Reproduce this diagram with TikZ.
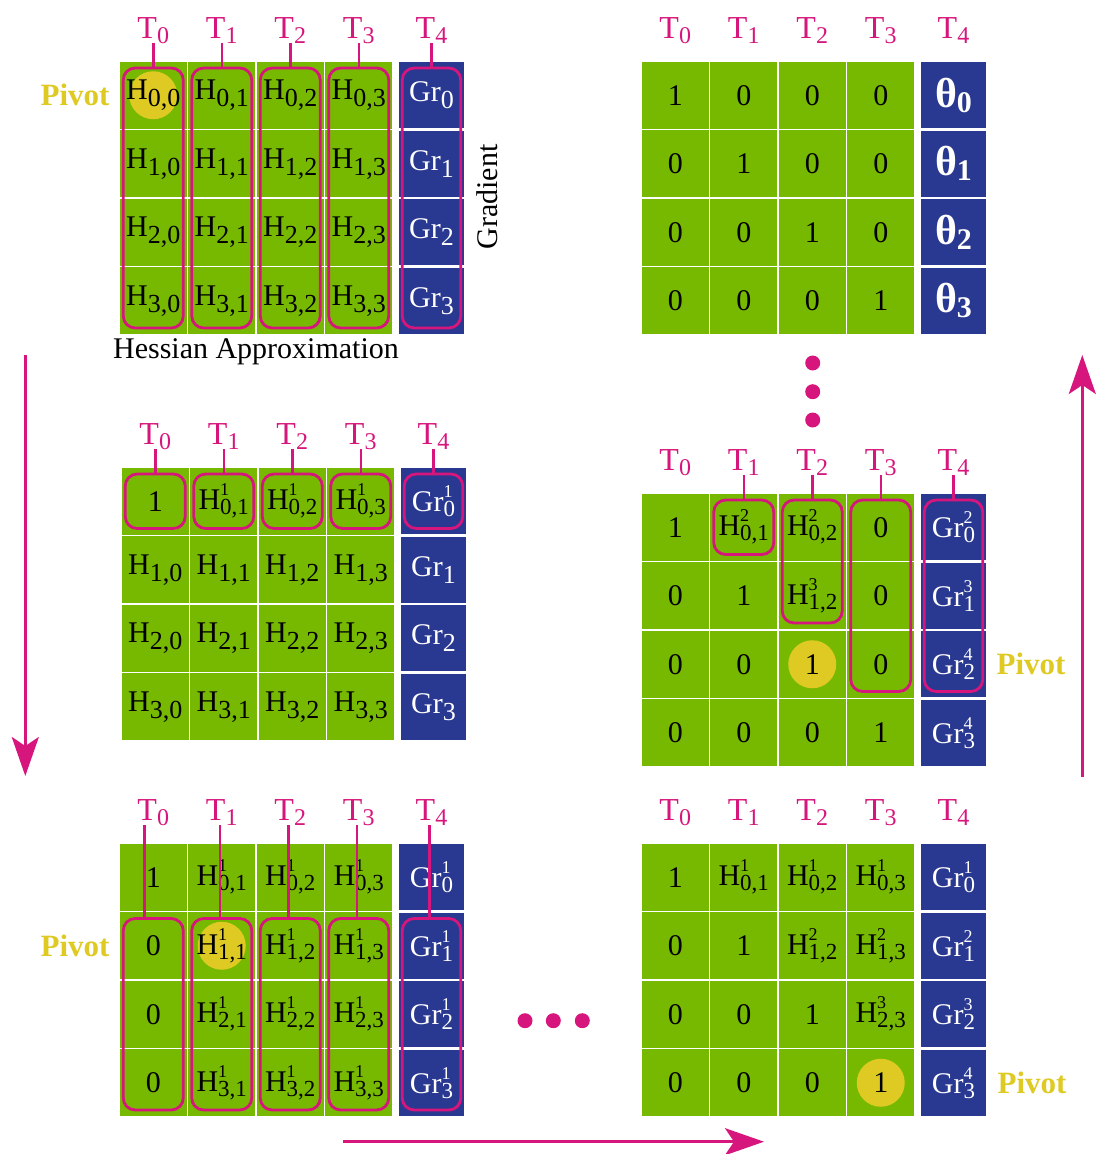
\documentclass[tikz,border=0pt]{standalone}
\usepackage{fontspec}
\setmainfont{Liberation Serif}
\usetikzlibrary{arrows.meta,fit}
\definecolor{hgreen}{RGB}{118,185,0}
\definecolor{gblue}{RGB}{41,56,144}
\definecolor{mag}{RGB}{214,22,124}
\definecolor{piv}{RGB}{222,202,34}

\newcommand\mysub[1]{\raisebox{-7pt}{\fontsize{26}{26}\selectfont #1}}
\newcommand\mysup[2]{\makebox[0pt][l]{\raisebox{14pt}{\fontsize{18}{18}\selectfont #2}}\raisebox{-5pt}{\fontsize{23}{23}\selectfont #1}}
\newcommand\cH[1]{H\mysub{#1}}
\newcommand\cHu[2]{H\mysup{#1}{#2}}
\newcommand\cG[1]{Gr\mysub{#1}}
\newcommand\cGu[2]{Gr\mysup{#1}{#2}}
\newcommand\cT[1]{T\raisebox{-5pt}{\fontsize{24}{24}\selectfont #1}}
\newcommand\cTh[1]{{\bfseries\fontsize{42}{42}\selectfont θ\raisebox{-5pt}{\fontsize{30}{30}\selectfont #1}}}

% one matrix row: name, row, pivot column, four green entries, blue entry
\newcommand\mrow[8]{%
  \tikzset{pv0/.style={},pv1/.style={},pv2/.style={},pv3/.style={},pv-1/.style={},pv#3/.style={pivot}}%
  \node[gcell,pv0] (#1-#2-0) at ({\matX+34.25},{\matY+68.5*#2+34.25}) {#4};
  \node[gcell,pv1] (#1-#2-1) at ({\matX+102.75},{\matY+68.5*#2+34.25}) {#5};
  \node[gcell,pv2] (#1-#2-2) at ({\matX+171.25},{\matY+68.5*#2+34.25}) {#6};
  \node[gcell,pv3] (#1-#2-3) at ({\matX+239.75},{\matY+68.5*#2+34.25}) {#7};
  \node[bcell] (#1-#2-4) at ({\matX+312.5},{\matY+68.5*#2+34.25}) {#8};
}
\newcommand\tlabels[1]{%
  \foreach \i/\xx in {0/34.25,1/102.75,2/171.25,3/239.75,4/312.5}{%
    \node[tlabel] (#1-T\i) at ({\matX+\xx},{\matY-23}) {\cT{\i}};}%
}

\begin{document}
\begin{tikzpicture}[x=1pt,y=-1pt,
  gcell/.style={fill=hgreen, draw=white, line width=1.5pt, minimum width=68.5pt, minimum height=68.5pt,
    inner sep=0pt, outer sep=0pt, font=\fontsize{30}{36}\selectfont, text=black},
  bcell/.style={fill=gblue, draw=white, line width=2.5pt, minimum width=67pt, minimum height=68.5pt,
    inner sep=0pt, outer sep=0pt, font=\fontsize{30}{36}\selectfont, text=white},
  pivot/.style={path picture={\fill[piv] (path picture bounding box.center) circle[radius=24pt];}},
  tlabel/.style={text=mag, font=\fontsize{32}{36}\selectfont, anchor=base, inner sep=0pt},
  rbox/.style={draw=mag, line width=2.8pt, rounded corners=12pt, inner xsep=-4.25pt, inner ysep=-7pt},
  conn/.style={draw=mag, line width=2.5pt},
  pivtext/.style={text=piv, font=\fontsize{31}{36}\selectfont\bfseries, inner sep=0pt},
  arr/.style={draw=mag, line width=3pt, -{Stealth[length=39pt,width=27pt,inset=9pt]}},
  dotn/.style={circle, fill=mag, minimum size=15pt, inner sep=0pt},
  plain/.style={font=\fontsize{30}{36}\selectfont, inner sep=0pt}
]
\useasboundingbox (0,0) rectangle (1097,1154);

% ---------- A: top left ----------
\def\matX{119}\def\matY{61}
\mrow{A}{0}{0}{\cH{0,0}}{\cH{0,1}}{\cH{0,2}}{\cH{0,3}}{\cG{0}}
\mrow{A}{1}{-1}{\cH{1,0}}{\cH{1,1}}{\cH{1,2}}{\cH{1,3}}{\cG{1}}
\mrow{A}{2}{-1}{\cH{2,0}}{\cH{2,1}}{\cH{2,2}}{\cH{2,3}}{\cG{2}}
\mrow{A}{3}{-1}{\cH{3,0}}{\cH{3,1}}{\cH{3,2}}{\cH{3,3}}{\cG{3}}
\tlabels{A}
\foreach \c in {0,...,4}{%
  \node[rbox, fit=(A-0-\c)(A-3-\c)] (A-b\c) {};
  \draw[conn] (A-T\c.south) -- (A-T\c.south |- A-b\c.north);}
\node[pivtext] (A-piv) at (75,95) {Pivot};
\node[plain, anchor=base] (hess) at (256,358) {Hessian Approximation};
\node[plain, rotate=90] (grad) at (487,197) {Gradient};

% ---------- B: top right ----------
\def\matX{641}\def\matY{61}
\mrow{B}{0}{-1}{1}{0}{0}{0}{\cTh{0}}
\mrow{B}{1}{-1}{0}{1}{0}{0}{\cTh{1}}
\mrow{B}{2}{-1}{0}{0}{1}{0}{\cTh{2}}
\mrow{B}{3}{-1}{0}{0}{0}{1}{\cTh{3}}
\tlabels{B}

% ---------- C: middle left ----------
\def\matX{121}\def\matY{467}
\mrow{C}{0}{-1}{1}{\cHu{0,1}{1}}{\cHu{0,2}{1}}{\cHu{0,3}{1}}{\cGu{0}{1}}
\mrow{C}{1}{-1}{\cH{1,0}}{\cH{1,1}}{\cH{1,2}}{\cH{1,3}}{\cG{1}}
\mrow{C}{2}{-1}{\cH{2,0}}{\cH{2,1}}{\cH{2,2}}{\cH{2,3}}{\cG{2}}
\mrow{C}{3}{-1}{\cH{3,0}}{\cH{3,1}}{\cH{3,2}}{\cH{3,3}}{\cG{3}}
\tlabels{C}
\foreach \c in {0,...,4}{%
  \node[rbox, fit=(C-0-\c)] (C-b\c) {};
  \draw[conn] (C-T\c.south) -- (C-T\c.south |- C-b\c.north);}

% ---------- D: middle right ----------
\def\matX{641}\def\matY{493}
\mrow{D}{0}{-1}{1}{\cHu{0,1}{2}}{\cHu{0,2}{2}}{0}{\cGu{0}{2}}
\mrow{D}{1}{-1}{0}{1}{\cHu{1,2}{3}}{0}{\cGu{1}{3}}
\mrow{D}{2}{2}{0}{0}{1}{0}{\cGu{2}{4}}
\mrow{D}{3}{-1}{0}{0}{0}{1}{\cGu{3}{4}}
\tlabels{D}
\node[rbox, fit=(D-0-1)] (D-b1) {};
\node[rbox, fit=(D-0-2)(D-1-2)] (D-b2) {};
\node[rbox, fit=(D-0-3)(D-2-3)] (D-b3) {};
\node[rbox, fit=(D-0-4)(D-2-4)] (D-b4) {};
\foreach \c in {1,...,4}{%
  \draw[conn] (D-T\c.south) -- (D-T\c.south |- D-b\c.north);}
\node[pivtext] (D-piv) at (1031,664) {Pivot};
\node[dotn] (vd1) at (812.7,363) {};
\node[dotn] (vd2) at (812.7,391.7) {};
\node[dotn] (vd3) at (812.7,420) {};

% ---------- E: bottom left ----------
\def\matX{119}\def\matY{843}
\mrow{E}{0}{-1}{1}{\cHu{0,1}{1}}{\cHu{0,2}{1}}{\cHu{0,3}{1}}{\cGu{0}{1}}
\mrow{E}{1}{1}{0}{\cHu{1,1}{1}}{\cHu{1,2}{1}}{\cHu{1,3}{1}}{\cGu{1}{1}}
\mrow{E}{2}{-1}{0}{\cHu{2,1}{1}}{\cHu{2,2}{1}}{\cHu{2,3}{1}}{\cGu{2}{1}}
\mrow{E}{3}{-1}{0}{\cHu{3,1}{1}}{\cHu{3,2}{1}}{\cHu{3,3}{1}}{\cGu{3}{1}}
\tlabels{E}
\foreach \c in {0,...,4}{%
  \node[rbox, fit=(E-1-\c)(E-3-\c)] (E-b\c) {};}
\draw[conn] ([xshift=-9pt]E-T0.south) -- ([xshift=-9pt]E-T0.south |- E-b0.north);
\foreach \c in {1,...,4}{%
  \draw[conn] ([xshift=-2pt]E-T\c.south) -- ([xshift=-2pt]E-T\c.south |- E-b\c.north);}
\node[pivtext] (E-piv) at (75,945.75) {Pivot};

% ---------- F: bottom right ----------
\def\matX{641}\def\matY{843}
\mrow{F}{0}{-1}{1}{\cHu{0,1}{1}}{\cHu{0,2}{1}}{\cHu{0,3}{1}}{\cGu{0}{1}}
\mrow{F}{1}{-1}{0}{1}{\cHu{1,2}{2}}{\cHu{1,3}{2}}{\cGu{1}{2}}
\mrow{F}{2}{-1}{0}{0}{1}{\cHu{2,3}{3}}{\cGu{2}{3}}
\mrow{F}{3}{3}{0}{0}{0}{1}{\cGu{3}{4}}
\tlabels{F}
\node[pivtext] (F-piv) at (1032,1083) {Pivot};
\node[dotn] (hd1) at (525,1020.7) {};
\node[dotn] (hd2) at (553.3,1020.7) {};
\node[dotn] (hd3) at (582.3,1020.7) {};

% ---------- arrows ----------
\coordinate (down-s) at (25.3,355);
\coordinate (down-e) at (25.3,776);
\coordinate (right-s) at (343,1141.7);
\coordinate (right-e) at (764,1141.7);
\coordinate (up-s) at (1082.3,776.7);
\coordinate (up-e) at (1082.3,355);
\draw[arr] (down-s) -- (down-e);
\draw[arr] (right-s) -- (right-e);
\draw[arr] (up-s) -- (up-e);
\end{tikzpicture}
\end{document}
